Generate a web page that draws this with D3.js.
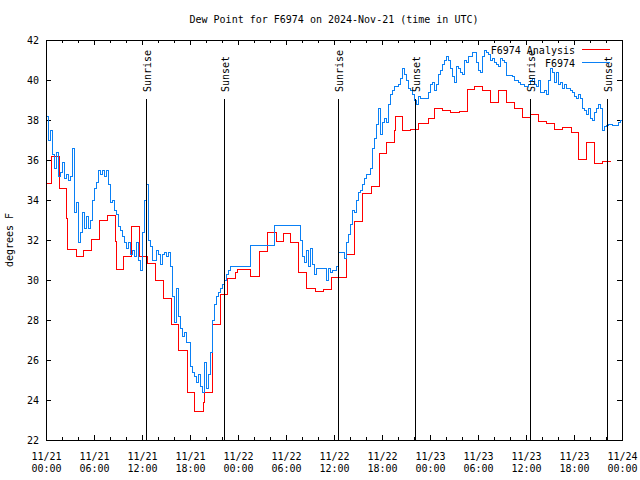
<!DOCTYPE html>
<html><head><meta charset="utf-8">
<script src="https://cdn.jsdelivr.net/npm/d3@7"></script>
<style>
body{margin:0;background:#fff;}
text{font-family:"DejaVu Sans Mono","Liberation Mono",monospace;font-size:10px;fill:#000;}
</style></head>
<body><svg id="c" width="640" height="480"></svg>
<script>
// ---- data (hours since 2024-11-21 00:00 UTC) ----
const titleText = "Dew Point for F6974 on 2024-Nov-21 (time in UTC)";
const yLabel = "degrees F";
const seriesNames = ["F6974 Analysis", "F6974"];
// Analysis (step changes): hour, value
const analysisHours = [0,0.7,1.67,2.58,2.67,3.75,4.67,5.7,6.67,7.7,8.67,8.83,9.7,10.7,11.67,12.65,13.7,14.67,15.67,16.58,17.67,18.62,19.67,19.83,20.75,21.75,22.67,23.7,23.9,25.58,26.67,27.67,28.75,29.67,30.6,31.6,32.6,33.67,34.67,35.7,37.58,38.6,39.58,40.7,41.67,42.58,43.5,43.67,44.58,45.58,46.62,47.75,48.6,49.58,50.6,51.67,52.67,53.6,54.58,55.6,56.5,57.58,58.6,59.58,60.5,61.5,62.58,63.6,64.58,65.7,66.5,67.58,68.5,69.58,70.58];
const analysisValues = [34.83,36.18,34.57,33.08,31.53,31.2,31.48,32.03,33.0,33.23,31.92,30.53,31.17,32.68,31.2,30.83,29.98,29.08,27.78,26.48,24.37,23.42,23.9,24.4,27.78,29.3,30.07,30.38,30.53,30.2,31.42,32.38,31.93,32.33,31.88,30.37,29.58,29.45,29.52,30.15,31.28,32.92,34.33,34.67,36.33,36.87,37.5,38.18,37.5,37.53,37.85,38.08,38.57,38.48,38.4,38.45,39.52,39.67,39.48,38.9,39.48,38.9,38.57,38.13,38.28,37.95,37.83,37.53,37.63,37.4,36.05,36.88,35.85,35.93,35.93];
// Observations every 15 minutes
const obsStep = 0.25;
const obsValues = [
38.2,37.0,37.5,36.3, 35.6,36.4,35.2,35.4, 35.9,35.1,35.3,35.0, 35.2,36.6,33.4,33.9,
31.9,32.4,33.4,32.6, 33.2,32.6,33.0,34.0, 34.6,34.9,35.5,35.3, 35.5,35.2,35.5,34.8,
33.9,34.0,33.5,33.3, 32.7,32.5,32.2,31.9, 31.6,31.9,31.3,31.5, 31.2,31.9,31.0,30.5,
32.4,34.0,34.8,32.0, 31.7,31.0,31.0,31.5, 31.3,30.8,31.3,31.4, 31.2,31.4,30.7,29.2,
27.9,29.6,28.2,27.6, 27.2,27.4,26.9,26.9, 25.7,25.4,25.2,24.9, 25.3,24.7,24.4,25.9,
24.6,25.3,26.4,28.0, 28.8,29.2,29.4,29.6, 29.8,30.0,30.3,30.5, 30.7,30.7,30.7,30.7,
30.7,30.7,30.7,30.7, 30.7,30.7,31.75,31.75, 31.75,31.75,31.75,31.75, 31.75,31.75,31.75,31.75,
31.75,31.75,32.75,32.75, 32.75,32.75,32.75,32.75, 32.75,32.75,32.75,32.75, 32.75,32.75,32.75,32.0,
31.2,30.9,31.5,30.7, 31.6,30.8,30.3,30.6, 30.6,30.6,30.6,30.6, 30.0,30.6,30.4,30.5,
30.5,30.7,31.4,31.4, 31.4,31.1,31.9,32.3, 32.8,33.5,33.4,34.0, 34.4,34.5,34.8,35.1,
35.3,35.3,35.6,36.6, 37.1,37.8,38.6,37.3, 37.9,38.1,37.9,38.8, 39.3,39.5,39.7,39.7,
39.8,40.1,40.6,40.3, 40.0,39.6,39.5,39.3, 39.0,38.8,39.2,39.1, 39.1,39.1,39.1,39.4,
39.8,39.9,39.5,39.8, 40.3,40.5,40.8,41.0, 41.2,41.0,40.6,40.2, 39.9,40.7,40.6,40.4,
40.3,41.0,40.9,41.2, 41.2,41.4,41.4,40.9, 40.5,40.4,41.2,41.5, 41.4,41.3,41.0,41.1,
40.9,40.8,40.7,41.1, 41.0,40.9,40.25,40.25, 40.25,40.2,40.0,40.0, 39.9,39.8,39.8,39.7,
39.7,39.8,40.0,40.1, 39.8,39.7,40.0,39.4, 39.4,39.5,39.3,40.0, 40.6,40.4,39.9,40.4,
39.8,39.9,39.6,39.8, 39.6,39.6,39.5,39.4, 39.2,39.1,39.3,39.1, 38.6,38.5,38.3,38.6,
38.1,38.0,38.4,38.6, 38.8,38.6,37.5,37.7, 37.75,37.8,37.8,37.75, 37.75,37.75,37.9,38.0,
38.0];
const sunEventHours = [12.55,22.29,36.54,46.19,60.54,70.16];
const sunEventNames = ["Sunrise","Sunset","Sunrise","Sunset","Sunrise","Sunset"];
const xMajorTicks = [0,6,12,18,24,30,36,42,48,54,60,66,72];
const xTickLabels = ["11/21|00:00","11/21|06:00","11/21|12:00","11/21|18:00","11/22|00:00","11/22|06:00","11/22|12:00","11/22|18:00","11/23|00:00","11/23|06:00","11/23|12:00","11/23|18:00","11/24|00:00"];
const yTicks = [22,24,26,28,30,32,34,36,38,40,42];

// ---- drawing ----
const svg = d3.select("#c");
const L=46,R=622,T=40,B=440;
const x = d3.scaleLinear().domain([0,72]).range([L,R]);
const y = d3.scaleLinear().domain([22,42]).range([B,T]);
const redCol = "#ff0000", blueCol = "#0a80f5";

const minor = d3.range(0,73,2).filter(h=>h%6!==0);

function styleAxis(g){ g.select(".domain").remove(); g.selectAll("line").attr("stroke","#000").attr("shape-rendering","crispEdges"); }

// bottom axis major
const gb = svg.append("g").attr("transform",`translate(0,${B})`)
  .call(d3.axisBottom(x).tickValues(xMajorTicks).tickSizeInner(-5).tickSizeOuter(0).tickPadding(0).tickFormat((d,i)=>xTickLabels[i]));
styleAxis(gb);
gb.selectAll("text").each(function(d,i){
  const parts = xTickLabels[i].split("|");
  const t = d3.select(this).text(null).attr("y",0).attr("dy",null);
  t.append("tspan").attr("x",0).attr("y",20).text(parts[0]);
  t.append("tspan").attr("x",0).attr("y",32).text(parts[1]);
});
svg.append("g").attr("transform",`translate(0,${B})`)
  .call(d3.axisBottom(x).tickValues(minor).tickSizeInner(-3).tickSizeOuter(0).tickFormat("")).call(styleAxis);
// top axis
svg.append("g").attr("transform",`translate(0,${T})`)
  .call(d3.axisTop(x).tickValues(xMajorTicks).tickSizeInner(-5).tickSizeOuter(0).tickFormat("")).call(styleAxis);
svg.append("g").attr("transform",`translate(0,${T})`)
  .call(d3.axisTop(x).tickValues(minor).tickSizeInner(-3).tickSizeOuter(0).tickFormat("")).call(styleAxis);
// left/right axis
const gl = svg.append("g").attr("transform",`translate(${L},0)`)
  .call(d3.axisLeft(y).tickValues(yTicks).tickSizeInner(-5).tickSizeOuter(0).tickPadding(7).tickFormat(d3.format("d")));
styleAxis(gl);
gl.selectAll("text").attr("dy","0.35em");
svg.append("g").attr("transform",`translate(${R},0)`)
  .call(d3.axisRight(y).tickValues(yTicks).tickSizeInner(-5).tickSizeOuter(0).tickFormat("")).call(styleAxis);

// data lines
const redData = analysisHours.map((h,i)=>[h,analysisValues[i]]);
const blueData = obsValues.map((v,i)=>[i*obsStep,v]);
const line = d3.line().x(d=>x(d[0])).y(d=>y(d[1])).curve(d3.curveStepAfter);
svg.append("path").datum(redData).attr("d",line).attr("fill","none").attr("stroke",redCol).attr("stroke-width",1).attr("shape-rendering","crispEdges");
svg.append("path").datum(blueData).attr("d",line).attr("fill","none").attr("stroke",blueCol).attr("stroke-width",1).attr("shape-rendering","crispEdges");

// sun events
const sg = svg.append("g");
sunEventHours.forEach((h,i)=>{
  const xx = Math.floor(x(h))+0.5;
  sg.append("line").attr("x1",xx).attr("x2",xx).attr("y1",99).attr("y2",B).attr("stroke","#000").attr("stroke-width",1).attr("shape-rendering","crispEdges");
  sg.append("text").attr("transform",`translate(${xx+4},92) rotate(-90)`).attr("text-anchor","start").text(sunEventNames[i]);
});

// frame
svg.append("rect").attr("x",L+0.5).attr("y",T+0.5).attr("width",R-L).attr("height",B-T)
  .attr("fill","none").attr("stroke","#000").attr("shape-rendering","crispEdges");

// legend
const lg = svg.append("g");
[[redCol,54,49.5],[blueCol,67,62.5]].forEach((c,i)=>{
  lg.append("text").attr("x",575).attr("y",c[1]).attr("text-anchor","end").text(seriesNames[i]);
  lg.append("line").attr("x1",582).attr("x2",610).attr("y1",c[2]).attr("y2",c[2]).attr("stroke",c[0]).attr("stroke-width",1).attr("shape-rendering","crispEdges");
});

// title and y label
svg.append("text").attr("x",334).attr("y",23).attr("text-anchor","middle").text(titleText);
svg.append("text").attr("transform","translate(13,240) rotate(-90)").attr("text-anchor","middle").text(yLabel);
</script></body></html>
